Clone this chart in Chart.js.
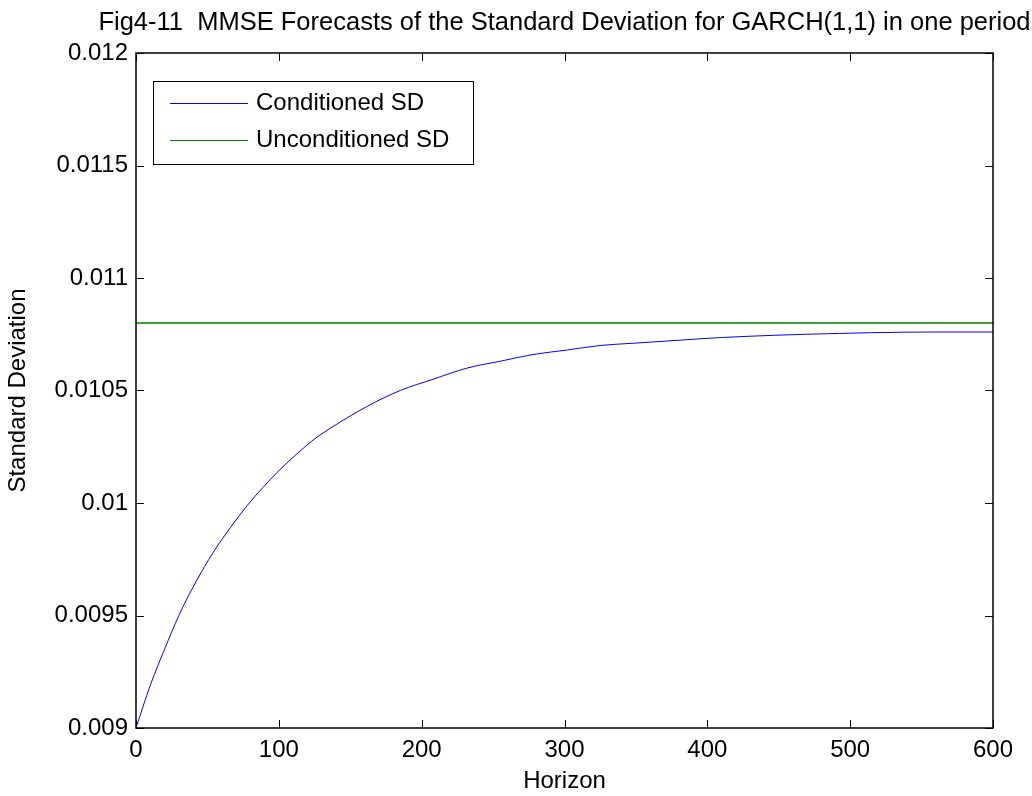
<!DOCTYPE html>
<html>
<head>
<meta charset="utf-8">
<script src="https://cdn.jsdelivr.net/npm/chart.js@4/dist/chart.umd.min.js"></script>
<style>
  html, body { margin: 0; padding: 0; background: #fff; }
  #wrap { width: 1032px; height: 796px; }
</style>
</head>
<body>
<div id="wrap"><canvas id="sdChart" width="1032" height="796"></canvas></div>
<script>
// forecast horizon and conditional SD
const horizons = [0, 10, 20, 30, 42, 54, 66, 78, 89, 101, 113, 124, 138, 162, 185, 208, 232, 255, 278, 302, 325, 348, 372, 395, 425, 470, 560, 600];
const condSD = [0.00900, 0.00919, 0.00935, 0.00950, 0.00965, 0.00978, 0.00989, 0.00999, 0.01007, 0.01015, 0.01022, 0.01028, 0.01034, 0.01043, 0.01050, 0.01055, 0.01060, 0.01063, 0.01066, 0.01068, 0.01070, 0.01071, 0.01072, 0.01073, 0.01074, 0.01075, 0.01076, 0.01076];
const uncondHorizons = [0, 600];
const uncondSD = [0.0108, 0.0108];

const xTicks = [0, 100, 200, 300, 400, 500, 600];
const yTicks = [0.009, 0.0095, 0.01, 0.0105, 0.011, 0.0115, 0.012];
const yTickLabels = ['0.009', '0.0095', '0.01', '0.0105', '0.011', '0.0115', '0.012'];

const FONT = '"Liberation Sans", Arial, Helvetica, sans-serif';

// box round the axes with ticks pointing inwards, matlab style
const frame = {
  id: 'frame',
  afterDatasetsDraw(chart) {
    const { ctx, chartArea: a, scales } = chart;
    ctx.save();
    ctx.strokeStyle = '#000';
    ctx.lineWidth = 1;
    ctx.beginPath();
    xTicks.forEach(v => {
      const x = Math.round(scales.x.getPixelForValue(v)) + 0.5;
      ctx.moveTo(x, a.bottom); ctx.lineTo(x, a.bottom - 8);
      ctx.moveTo(x, a.top); ctx.lineTo(x, a.top + 8);
    });
    yTicks.forEach(v => {
      const y = Math.round(scales.y.getPixelForValue(v)) + 0.5;
      ctx.moveTo(a.left, y); ctx.lineTo(a.left + 8, y);
      ctx.moveTo(a.right, y); ctx.lineTo(a.right - 8, y);
    });
    ctx.stroke();
    ctx.lineWidth = 1.5;
    ctx.strokeRect(a.left, a.top, a.right - a.left, a.bottom - a.top);
    ctx.restore();
  }
};

// legend box in the top left corner of the plot
const boxLegend = {
  id: 'boxLegend',
  afterDraw(chart) {
    const { ctx, chartArea: a } = chart;
    const x0 = a.left + 17, y0 = a.top + 28, w = 320, h = 83;
    ctx.save();
    ctx.fillStyle = '#fff';
    ctx.fillRect(x0, y0, w, h);
    ctx.strokeStyle = '#000';
    ctx.lineWidth = 1;
    ctx.strokeRect(x0 + 0.5, y0 + 0.5, w, h);
    ctx.font = '24px ' + FONT;
    ctx.textBaseline = 'middle';
    chart.data.datasets.forEach((ds, i) => {
      const y = Math.round(y0 + 22 + i * 37) + 0.5;
      ctx.strokeStyle = ds.borderColor;
      ctx.beginPath();
      ctx.moveTo(x0 + 17, y); ctx.lineTo(x0 + 95, y);
      ctx.stroke();
      ctx.fillStyle = '#000';
      ctx.fillText(ds.label, x0 + 103, y);
    });
    ctx.restore();
  }
};

// title centred over the plot area
const plotTitle = {
  id: 'plotTitle',
  afterDraw(chart) {
    const { ctx, chartArea: a } = chart;
    ctx.save();
    ctx.font = '25.5px ' + FONT;
    ctx.fillStyle = '#000';
    ctx.textAlign = 'center';
    ctx.textBaseline = 'alphabetic';
    ctx.fillText('Fig4-11  MMSE Forecasts of the Standard Deviation for GARCH(1,1) in one period', (a.left + a.right) / 2, 30);
    ctx.restore();
  }
};

new Chart(document.getElementById('sdChart'), {
  type: 'line',
  data: {
    datasets: [{
      label: 'Conditioned SD',
      data: horizons.map((h, i) => ({ x: h, y: condSD[i] })),
      borderColor: '#0000ff',
      borderWidth: 1,
      pointRadius: 0,
      cubicInterpolationMode: 'monotone'
    }, {
      label: 'Unconditioned SD',
      data: uncondHorizons.map((h, i) => ({ x: h, y: uncondSD[i] })),
      borderColor: '#008000',
      borderWidth: 1.5,
      pointRadius: 0
    }]
  },
  options: {
    responsive: false,
    animation: false,
    layout: { padding: { top: 53, right: 39, left: 0, bottom: 0 } },
    plugins: {
      legend: { display: false },
      tooltip: { enabled: false }
    },
    scales: {
      x: {
        type: 'linear',
        min: 0,
        max: 600,
        afterBuildTicks: s => { s.ticks = xTicks.map(v => ({ value: v })); },
        afterFit: s => { s.height = 68; },
        grid: { display: false, drawTicks: false },
        border: { display: false },
        ticks: {
          padding: 8,
          color: '#000',
          font: { family: FONT, size: 24 },
          maxRotation: 0
        },
        title: {
          display: true,
          text: 'Horizon',
          color: '#000',
          font: { family: FONT, size: 24 },
          padding: { top: 0, bottom: 0 }
        }
      },
      y: {
        min: 0.009,
        max: 0.012,
        afterBuildTicks: s => { s.ticks = yTicks.map(v => ({ value: v })); },
        afterFit: s => { s.width = 136; },
        grid: { display: false, drawTicks: false },
        border: { display: false },
        ticks: {
          padding: 8,
          color: '#000',
          font: { family: FONT, size: 24 },
          callback: (v, i) => yTickLabels[i]
        },
        title: {
          display: true,
          text: 'Standard Deviation',
          color: '#000',
          font: { family: FONT, size: 24 },
          padding: { top: 4, bottom: 0 }
        }
      }
    }
  },
  plugins: [frame, boxLegend, plotTitle]
});
</script>
</body>
</html>
